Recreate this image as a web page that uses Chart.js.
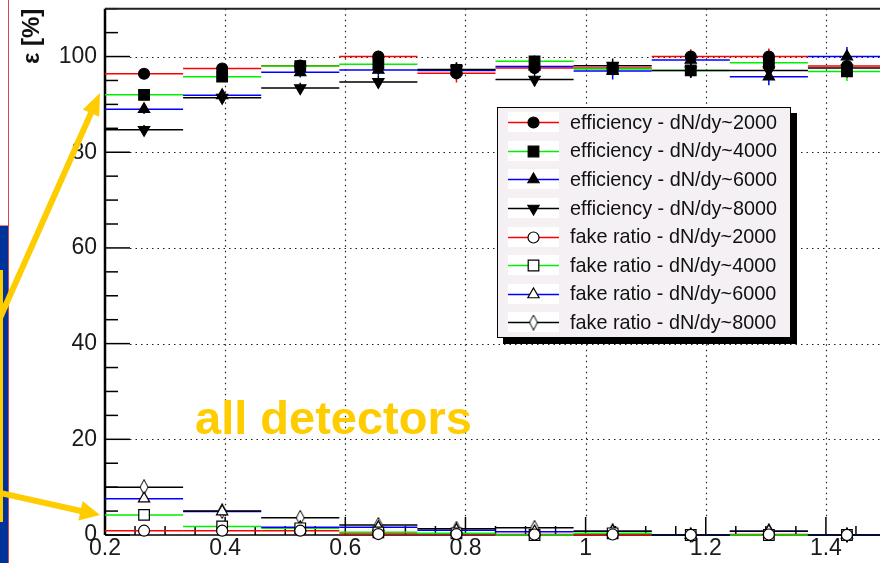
<!DOCTYPE html>
<html lang="en">
<head>
  <meta charset="UTF-8">
  <title>efficiency and fake ratio</title>
  <script src="https://cdn.jsdelivr.net/npm/chart.js"></script>
  <style>
    html, body { margin: 0; padding: 0; background: #fff; overflow: hidden; }
    #wrap { position: relative; width: 880px; height: 563px; overflow: hidden; }
    #chart { position: absolute; left: 0; top: 0; }
    .deco { position: absolute; }
    #label {
      position: absolute; left: 195px; top: 394px;
      font: bold 47px/47px "Liberation Sans", Arial, sans-serif;
      color: #ffcc00; white-space: nowrap;
    }
    #legend {
      position: absolute; left: 497px; top: 107px; width: 292px; height: 229px;
      background: #f4f0f3; border: 1px solid #000; box-shadow: 6px 6px 0 #000;
    }
    #legend .row { display: flex; align-items: center; height: 28.6px; }
    #legend canvas { margin-left: 10px; background: #fff; }
    #legend span {
      margin-left: 11px; font: 19.8px "Liberation Sans", Arial, sans-serif;
      color: #111; white-space: nowrap;
    }
    #arrows { position: absolute; left: 0; top: 0; }
  </style>
</head>
<body>
<div id="wrap">
  <canvas id="chart" width="900" height="563"></canvas>

  <!-- slide background at the left edge -->
  <div class="deco" style="left:0;top:225px;width:8px;height:338px;background:#003399;border-top:1px solid #f08080"></div>
  <div class="deco" style="left:8px;top:0;width:1px;height:563px;background:#d84848"></div>
  <div class="deco" style="left:0;top:270px;width:3px;height:252px;background:#ffcc00"></div>

  <svg id="arrows" width="880" height="563">
    <line x1="0" y1="318" x2="91" y2="113" stroke="#ffcc00" stroke-width="6"/>
    <polygon points="100,93 99.2,116.7 82.8,109.4" fill="#ffcc00"/>
    <line x1="0" y1="493" x2="81" y2="511" stroke="#ffcc00" stroke-width="6"/>
    <polygon points="100,515 78.4,520.5 82.6,500.9" fill="#ffcc00"/>
  </svg>

  <div id="label">all detectors</div>
  <div id="legend"></div>
</div>

<script>
  // bins in pT, width 0.13
  const binCenters = [0.265, 0.395, 0.525, 0.655, 0.785, 0.915, 1.045, 1.175, 1.305, 1.435];
  const binHalfWidth = 0.065;
  const xTicks = [0.2, 0.4, 0.6, 0.8, 1, 1.2, 1.4];
  const yTicks = [0, 20, 40, 60, 80, 100];

  const seriesLabels = [
    'efficiency - dN/dy~2000', 'efficiency - dN/dy~4000',
    'efficiency - dN/dy~6000', 'efficiency - dN/dy~8000',
    'fake ratio - dN/dy~2000', 'fake ratio - dN/dy~4000',
    'fake ratio - dN/dy~6000', 'fake ratio - dN/dy~8000'
  ];

  const eff2000 = [96.4, 97.5, 98.1, 100.0, 96.5, 97.6, 97.6, 100.0, 100.0, 98.0];
  const eff4000 = [92.0, 95.8, 98.0, 98.4, 97.2, 99.0, 97.4, 97.1, 98.7, 96.9];
  const eff6000 = [89.0, 91.9, 96.7, 97.2, 97.1, 97.9, 97.0, 99.3, 95.8, 100.0];
  const eff8000 = [84.7, 91.4, 93.4, 94.7, 97.3, 95.2, 98.1, 97.1, 97.1, 97.6];

  const fake2000 = [0.9, 0.9, 0.9, 0.2, 0.2, 0.1, 0.1, 0.0, 0.1, 0.0];
  const fake4000 = [4.2, 1.8, 1.4, 0.55, 0.35, 0.0, 0.35, 0.0, 0.0, 0.0];
  const fake6000 = [7.6, 4.9, 1.6, 1.6, 1.0, 0.7, 0.8, 0.0, 0.8, 0.0];
  const fake8000 = [10.0, 5.0, 3.6, 2.1, 1.3, 1.5, 0.8, 0.0, 0.8, 0.0];

  // vertical errors
  const effErr2000 = [0.8, 1.0, 1.0, 1.2, 1.9, 1.2, 1.3, 1.5, 1.7, 2.0];
  const effErr4000 = [0.9, 1.0, 1.0, 1.2, 1.5, 1.3, 1.5, 1.6, 1.7, 2.0];
  const effErr6000 = [1.0, 1.0, 1.1, 1.2, 1.5, 1.3, 1.8, 1.6, 1.8, 2.0];
  const effErr8000 = [1.0, 1.1, 1.1, 1.3, 1.5, 1.4, 1.5, 1.6, 1.8, 2.0];
  const fakeErr = [0.4, 0.4, 0.4, 0.4, 0.4, 0.4, 0.4, 0.4, 0.4, 0.4];

  const FONT = '"Liberation Sans", Arial, sans-serif';

  function diamond() {
    const c = document.createElement('canvas');
    c.width = 10; c.height = 16;
    const g = c.getContext('2d');
    g.beginPath();
    g.moveTo(5, 0.5); g.lineTo(9, 8); g.lineTo(5, 15.5); g.lineTo(1, 8); g.closePath();
    g.fillStyle = '#fff'; g.fill();
    g.strokeStyle = '#000'; g.lineWidth = 1; g.stroke();
    return c;
  }

  function series(label, values, errs, color, style, radius, open, rotation) {
    return {
      label: label,
      data: binCenters.map((x, i) => ({ x: x, y: values[i] })),
      yErr: errs,
      barColor: color,
      showLine: false,
      clip: false,
      pointStyle: style,
      pointRadius: radius,
      pointRotation: rotation || 0,
      pointBackgroundColor: open ? '#fff' : '#000',
      pointBorderColor: '#000',
      pointBorderWidth: 1.2
    };
  }

  const datasets = [
    series(seriesLabels[0], eff2000, effErr2000, '#ff0000', 'circle', 5.5, false),
    series(seriesLabels[1], eff4000, effErr4000, '#00ee00', 'rect', 7.5, false),
    series(seriesLabels[2], eff6000, effErr6000, '#0000ff', 'triangle', 6.5, false),
    series(seriesLabels[3], eff8000, effErr8000, '#000000', 'triangle', 6.5, false, 180),
    series(seriesLabels[4], fake2000, fakeErr, '#ff0000', 'circle', 5.5, true),
    series(seriesLabels[5], fake4000, fakeErr, '#00ee00', 'rect', 7.5, true),
    series(seriesLabels[6], fake6000, fakeErr, '#0000ff', 'triangle', 6.5, true),
    series(seriesLabels[7], fake8000, fakeErr, '#000000', diamond(), 6, true)
  ];

  // ROOT style frame: dotted grid, ticks pointing inward
  const rootFrame = {
    id: 'rootFrame',
    beforeDatasetsDraw(chart) {
      const { ctx, chartArea: a, scales: { x, y } } = chart;
      ctx.save();
      ctx.strokeStyle = '#222';
      ctx.lineWidth = 1.2;
      ctx.setLineDash([1.5, 4]);
      yTicks.slice(1).forEach(v => {
        const py = Math.round(y.getPixelForValue(v)) + 0.5;
        ctx.beginPath(); ctx.moveTo(a.left + 25, py); ctx.lineTo(a.right, py); ctx.stroke();
      });
      xTicks.slice(1).forEach(v => {
        const px = Math.round(x.getPixelForValue(v)) + 0.5;
        ctx.beginPath(); ctx.moveTo(px, a.top); ctx.lineTo(px, a.bottom - 18); ctx.stroke();
      });
      ctx.setLineDash([]);

      ctx.strokeStyle = '#000';
      ctx.lineWidth = 1.5;
      for (let v = 0; v <= 110; v += 5) {
        const py = y.getPixelForValue(v);
        const len = v % 20 === 0 ? 25 : 13;
        ctx.beginPath(); ctx.moveTo(a.left, py); ctx.lineTo(a.left + len, py); ctx.stroke();
      }
      for (let k = 0; k <= 26; k++) {
        const v = 0.2 + k * 0.05;
        const px = x.getPixelForValue(v);
        const len = k % 4 === 0 ? 18 : 9;
        ctx.beginPath(); ctx.moveTo(px, a.bottom); ctx.lineTo(px, a.bottom - len); ctx.stroke();
      }

      // frame
      ctx.strokeStyle = '#222';
      ctx.lineWidth = 2;
      ctx.beginPath(); ctx.moveTo(a.left, a.top); ctx.lineTo(a.right, a.top); ctx.stroke();
      ctx.strokeStyle = '#000';
      ctx.lineWidth = 2.5;
      ctx.beginPath(); ctx.moveTo(a.left, a.top); ctx.lineTo(a.left, a.bottom); ctx.stroke();
      ctx.lineWidth = 1.5;
      ctx.beginPath(); ctx.moveTo(a.left, a.bottom); ctx.lineTo(a.right, a.bottom); ctx.stroke();
      ctx.restore();
    }
  };

  const errorBars = {
    id: 'errorBars',
    beforeDatasetsDraw(chart) {
      const { ctx, scales: { x, y } } = chart;
      ctx.save();
      ctx.lineWidth = 1.5;
      chart.data.datasets.forEach(ds => {
        ctx.strokeStyle = ds.barColor;
        ds.data.forEach((p, i) => {
          const py = y.getPixelForValue(p.y);
          const px = x.getPixelForValue(p.x);
          ctx.beginPath();
          ctx.moveTo(x.getPixelForValue(p.x - binHalfWidth), py);
          ctx.lineTo(x.getPixelForValue(p.x + binHalfWidth), py);
          ctx.moveTo(px, y.getPixelForValue(Math.max(0, p.y - ds.yErr[i])));
          ctx.lineTo(px, y.getPixelForValue(p.y + ds.yErr[i]));
          ctx.stroke();
        });
      });
      ctx.restore();
    }
  };

  const ctx = document.getElementById('chart').getContext('2d');
  const chart = new Chart(ctx, {
    type: 'scatter',
    data: { datasets: datasets },
    options: {
      responsive: false,
      animation: false,
      layout: { padding: { top: 6, right: 14, bottom: 0, left: 0 } },
      plugins: { legend: { display: false }, tooltip: { enabled: false } },
      scales: {
        x: {
          type: 'linear', min: 0.2, max: 1.5,
          afterBuildTicks: s => { s.ticks = xTicks.map(v => ({ value: v })); },
          afterFit: s => { s.height = 28; s.paddingLeft = 0; s.paddingRight = 0; },
          grid: { display: false, drawTicks: false },
          border: { display: false },
          ticks: {
            autoSkip: false, maxRotation: 0, padding: 0,
            color: '#1a1a1a', font: { family: FONT, size: 23 },
            callback: v => (v === 1 ? '1' : v.toFixed(1))
          }
        },
        y: {
          min: 0, max: 110,
          afterBuildTicks: s => { s.ticks = yTicks.map(v => ({ value: v })); },
          afterFit: s => { s.width = 105; s.paddingTop = 0; s.paddingBottom = 0; },
          grid: { display: false, drawTicks: false },
          border: { display: false },
          ticks: { padding: 8, color: '#1a1a1a', font: { family: FONT, size: 23 } },
          title: {
            display: true, text: 'ε [%]', align: 'end',
            color: '#111', font: { family: FONT, size: 24, weight: 'bold' },
            padding: { top: 18, bottom: 0 }
          }
        }
      }
    },
    plugins: [rootFrame, errorBars]
  });

  // legend box with line + marker samples
  const legend = document.getElementById('legend');
  datasets.forEach(ds => {
    const row = document.createElement('div');
    row.className = 'row';
    const c = document.createElement('canvas');
    c.width = 51; c.height = 20;
    const g = c.getContext('2d');
    g.strokeStyle = ds.barColor; g.lineWidth = 1.5;
    g.beginPath(); g.moveTo(0, 10.5); g.lineTo(51, 10.5); g.stroke();
    g.fillStyle = ds.pointBackgroundColor; g.strokeStyle = '#000'; g.lineWidth = 1.2;
    Chart.helpers.drawPoint(g, {
      pointStyle: ds.pointStyle, radius: ds.pointRadius,
      rotation: ds.pointRotation, borderWidth: 1.2
    }, 25.5, 10.5);
    const t = document.createElement('span');
    t.textContent = ds.label;
    row.appendChild(c);
    row.appendChild(t);
    legend.appendChild(row);
  });
</script>
</body>
</html>
